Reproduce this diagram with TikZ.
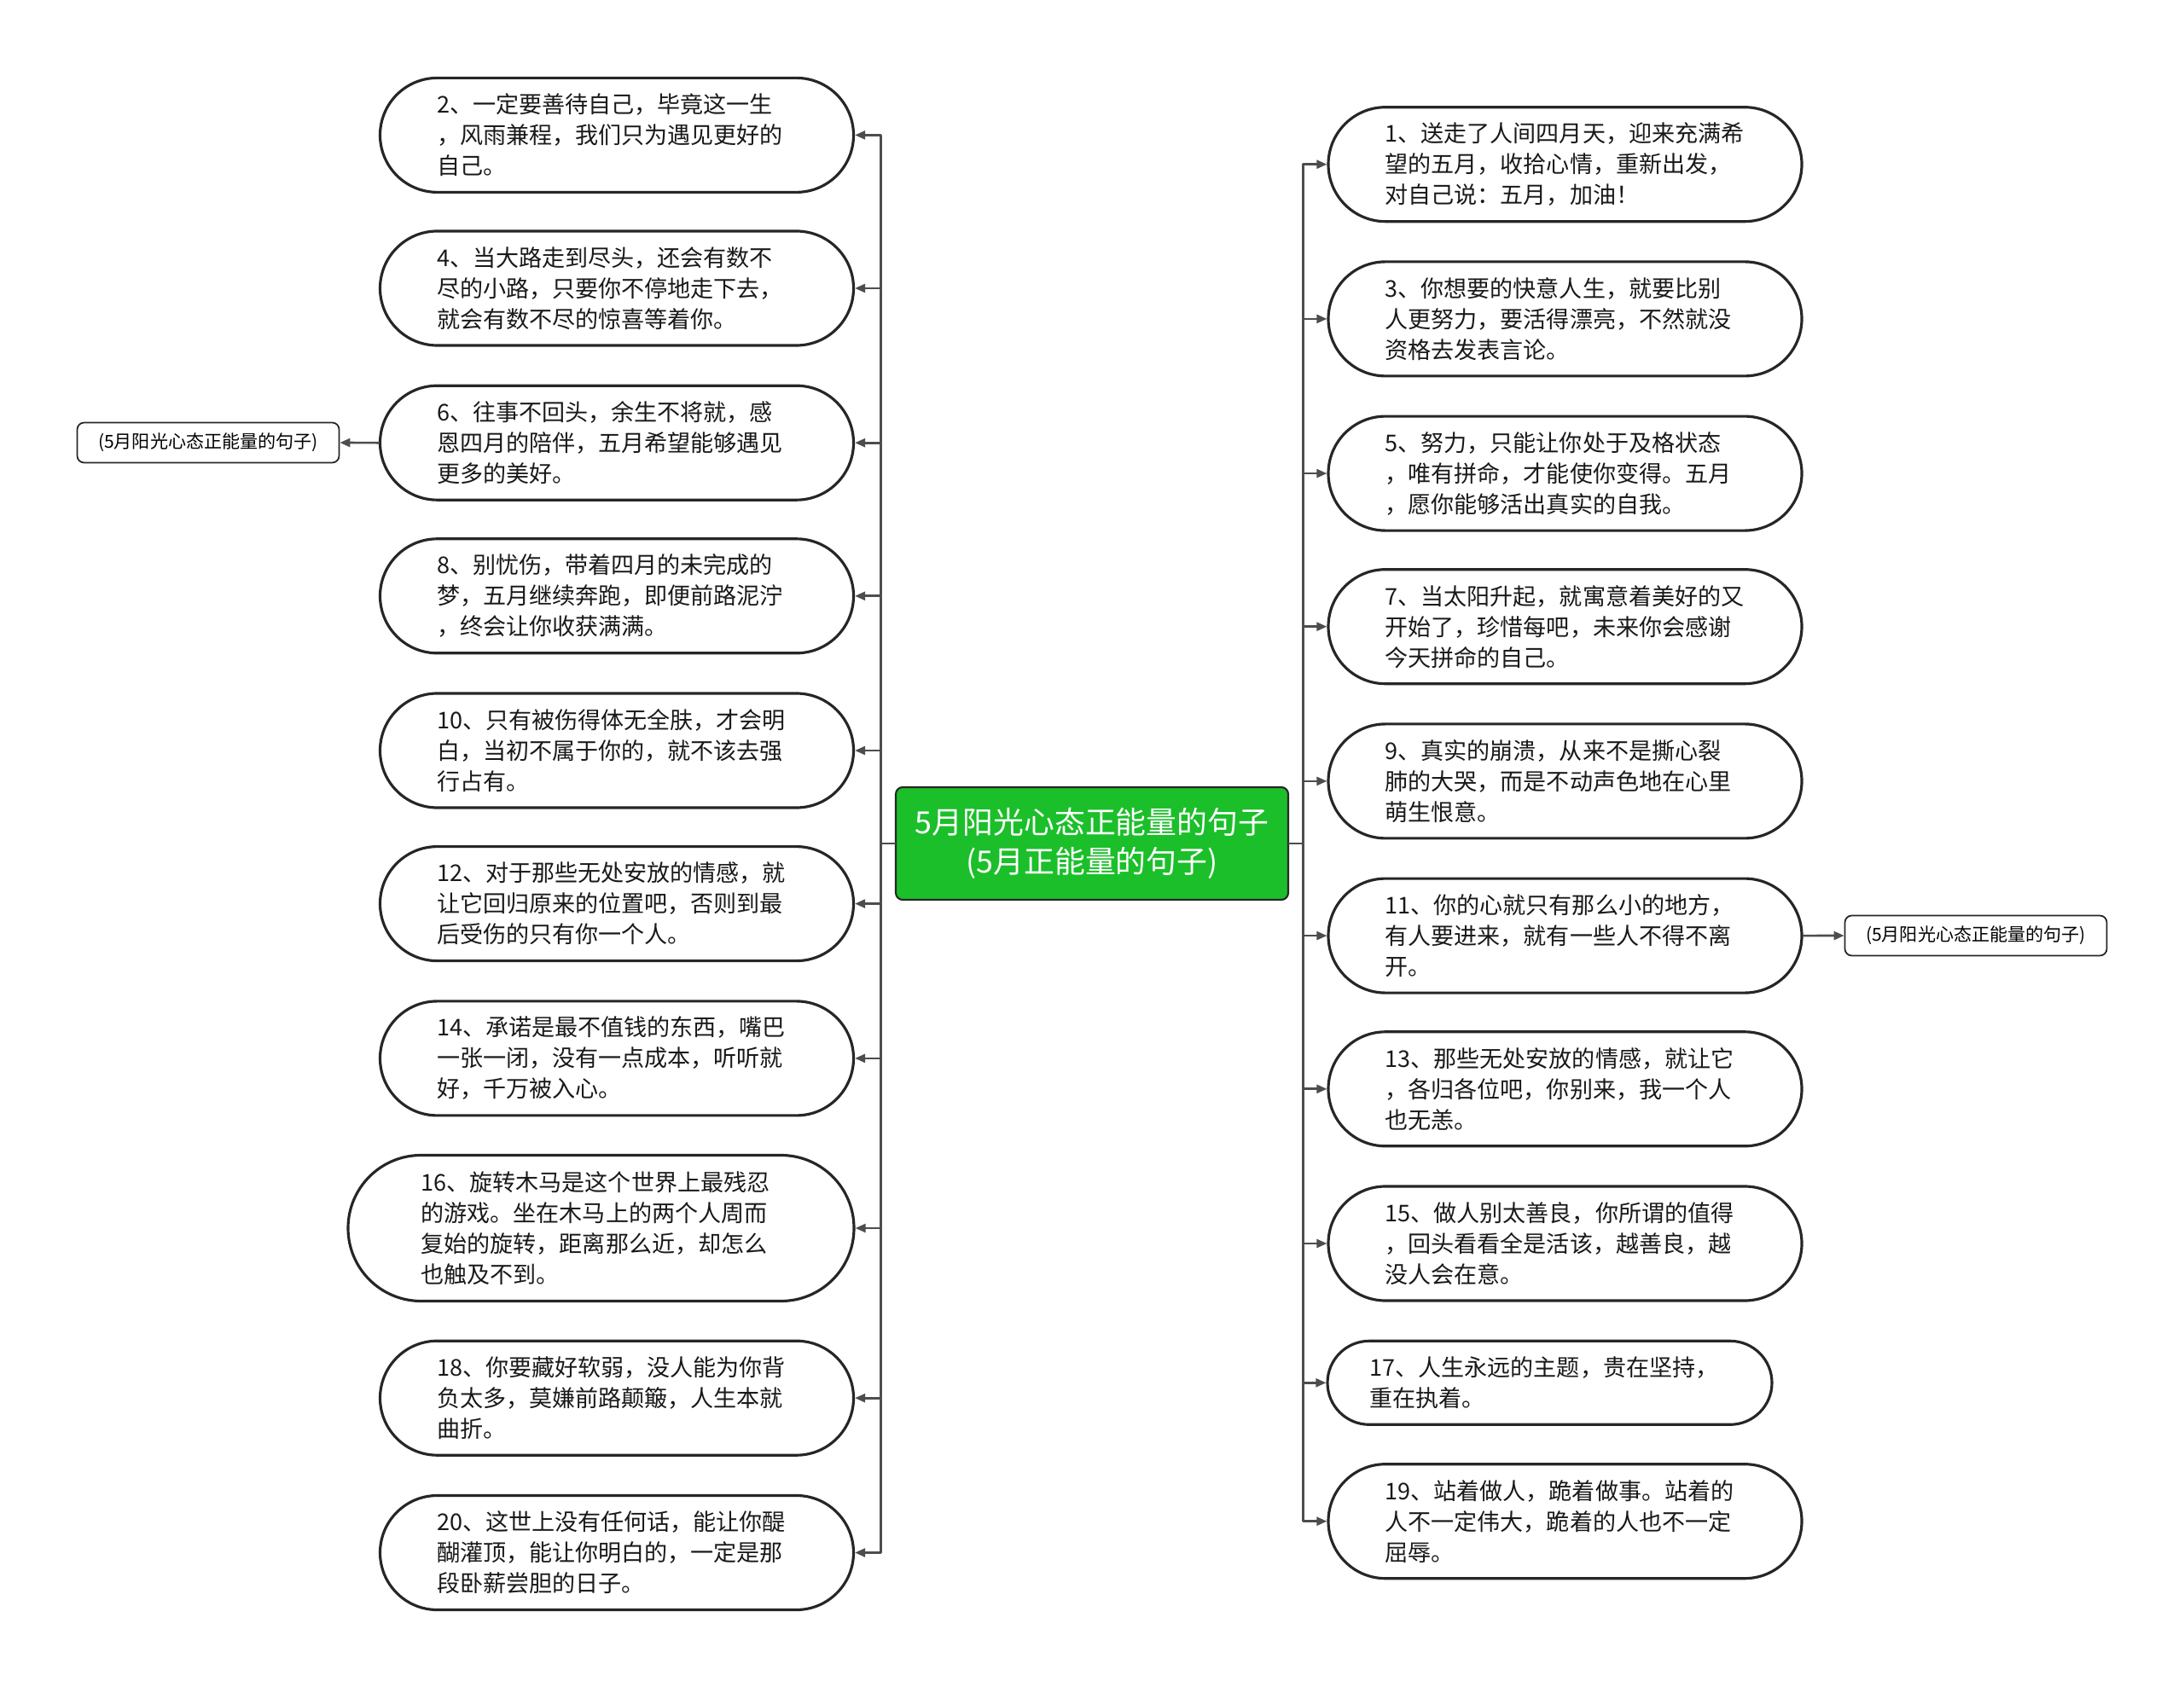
\documentclass[tikz,border=0pt]{standalone}
\usepackage{fontspec}
\setmainfont{Noto Sans CJK SC}
\usetikzlibrary{arrows.meta}

\definecolor{topicgreen}{HTML}{1BBF2A}
\definecolor{linkgray}{HTML}{4D4D4D}
\newcommand\pillfont{\fontsize{7.7pt}{10.25pt}\selectfont}
\newcommand\topicfont{\fontsize{10.2pt}{13pt}\selectfont}
\newcommand\tagfont{\fontsize{6pt}{7pt}\selectfont}

\begin{document}
\begin{tikzpicture}[
  pill/.style={draw=black!85,line width=0.9pt,fill=white,text=black!90,
    rounded corners=0.67cm,minimum height=1.34cm,text width=4.22cm,
    inner xsep=0.665cm,inner ysep=0pt,align=left,font=\pillfont},
  topic/.style={draw=black!85,line width=0.6pt,fill=topicgreen,text=white,
    rounded corners=2.3pt,minimum width=4.6cm,minimum height=1.32cm,
    align=center,font=\topicfont},
  tag/.style={draw=black!85,line width=0.5pt,fill=white,rounded corners=2.3pt,
    minimum width=3.07cm,minimum height=0.47cm,inner sep=0pt,font=\tagfont},
  link/.style={draw=linkgray,line width=0.75pt,-{Triangle[length=3.4pt,width=2.8pt]}},
  every path/.style={line cap=round,line join=round}
]
  \useasboundingbox (0,0) rectangle (25.6,-19.78);

  \node[topic] (topic) at (12.80,-9.89)
    {5月阳光心态正能量的句子\\(5月正能量的句子)};

  % left branch
  \node[pill] (left-2) at (7.23,-1.584)
    {2、一定要善待自己，毕竟这一生\\，风雨兼程，我们只为遇见更好的\\自己。};
  \node[pill] (left-4) at (7.23,-3.380)
    {4、当大路走到尽头，还会有数不\\尽的小路，只要你不停地走下去，\\就会有数不尽的惊喜等着你。};
  \node[pill] (left-6) at (7.23,-5.192)
    {6、往事不回头，余生不将就，感\\恩四月的陪伴，五月希望能够遇见\\更多的美好。};
  \node[pill] (left-8) at (7.23,-6.988)
    {8、别忧伤，带着四月的未完成的\\梦，五月继续奔跑，即便前路泥泞\\，终会让你收获满满。};
  \node[pill] (left-10) at (7.23,-8.800)
    {10、只有被伤得体无全肤，才会明\\白，当初不属于你的，就不该去强\\行占有。};
  \node[pill] (left-12) at (7.23,-10.596)
    {12、对于那些无处安放的情感，就\\让它回归原来的位置吧，否则到最\\后受伤的只有你一个人。};
  \node[pill] (left-14) at (7.23,-12.409)
    {14、承诺是最不值钱的东西，嘴巴\\一张一闭，没有一点成本，听听就\\好，千万被入心。};
  \node[pill,minimum height=1.71cm,rounded corners=0.855cm,inner xsep=0.855cm]
    (left-16) at (7.045,-14.400)
    {16、旋转木马是这个世界上最残忍\\的游戏。坐在木马上的两个人周而\\复始的旋转，距离那么近，却怎么\\也触及不到。};
  \node[pill] (left-18) at (7.23,-16.392)
    {18、你要藏好软弱，没人能为你背\\负太多，莫嫌前路颠簸，人生本就\\曲折。};
  \node[pill] (left-20) at (7.23,-18.205)
    {20、这世上没有任何话，能让你醍\\醐灌顶，能让你明白的，一定是那\\段卧薪尝胆的日子。};

  % right branch
  \node[pill] (right-1) at (18.345,-1.927)
    {1、送走了人间四月天，迎来充满希\\望的五月，收拾心情，重新出发，\\对自己说：五月，加油！};
  \node[pill] (right-3) at (18.345,-3.739)
    {3、你想要的快意人生，就要比别\\人更努力，要活得漂亮，不然就没\\资格去发表言论。};
  \node[pill] (right-5) at (18.345,-5.551)
    {5、努力，只能让你处于及格状态\\，唯有拼命，才能使你变得。五月\\，愿你能够活出真实的自我。};
  \node[pill] (right-7) at (18.345,-7.347)
    {7、当太阳升起，就寓意着美好的又\\开始了，珍惜每吧，未来你会感谢\\今天拼命的自己。};
  \node[pill] (right-9) at (18.345,-9.159)
    {9、真实的崩溃，从来不是撕心裂\\肺的大哭，而是不动声色地在心里\\萌生恨意。};
  \node[pill] (right-11) at (18.345,-10.971)
    {11、你的心就只有那么小的地方，\\有人要进来，就有一些人不得不离\\开。};
  \node[pill] (right-13) at (18.345,-12.768)
    {13、那些无处安放的情感，就让它\\，各归各位吧，你别来，我一个人\\也无恙。};
  \node[pill] (right-15) at (18.345,-14.580)
    {15、做人别太善良，你所谓的值得\\，回头看看全是活该，越善良，越\\没人会在意。};
  \node[pill,minimum height=0.98cm,rounded corners=0.49cm,inner xsep=0.495cm]
    (right-17) at (18.165,-16.213)
    {17、人生永远的主题，贵在坚持，\\重在执着。};
  \node[pill] (right-19) at (18.345,-17.837)
    {19、站着做人，跪着做事。站着的\\人不一定伟大，跪着的人也不一定\\屈辱。};

  \node[tag] (tag-left) at (2.44,-5.19) {(5月阳光心态正能量的句子)};
  \node[tag] (tag-right) at (23.16,-10.97) {(5月阳光心态正能量的句子)};

  \foreach \n in {2,4,...,20}
    \draw[link] (topic.west) -- ++(-0.165,0) |- (left-\n.east);
  \foreach \n in {1,3,...,19}
    \draw[link] (topic.east) -- ++(0.166,0) |- (right-\n.west);
  \draw[link] (left-6.west) -- (tag-left.east);
  \draw[link] (right-11.east) -- (tag-right.west);
\end{tikzpicture}
\end{document}
